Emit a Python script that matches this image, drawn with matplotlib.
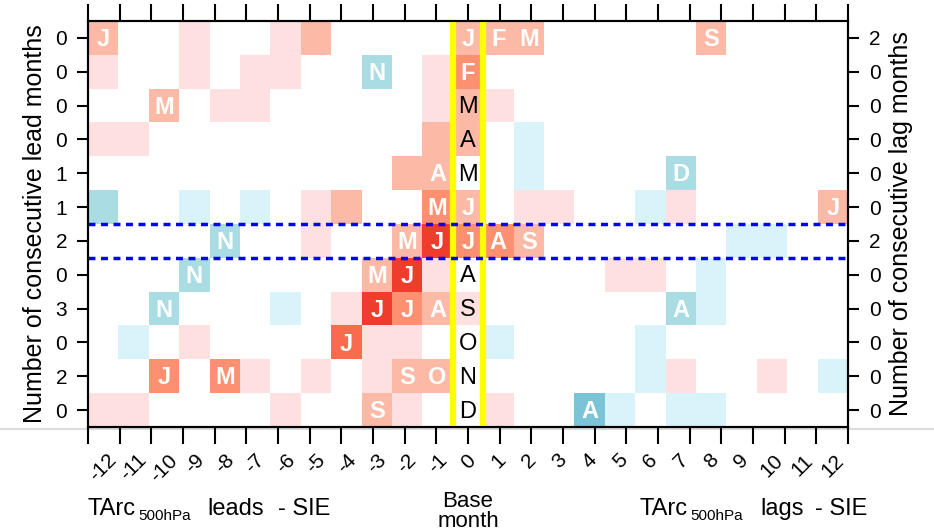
import numpy as np
import matplotlib.pyplot as plt
from matplotlib.colors import ListedColormap, BoundaryNorm
from matplotlib.lines import Line2D

plt.rcParams['font.family'] = ['Liberation Sans', 'DejaVu Sans']

lags = list(range(-12, 13))
base_months = list('JFMAMJJASOND')
lead_counts = [0, 0, 0, 0, 1, 1, 2, 0, 3, 0, 2, 0]
lag_counts = [2, 0, 0, 0, 0, 0, 2, 0, 0, 0, 0, 0]

# correlation class per cell (-3..-1 blue, 1..5 red), rows Jan..Dec, columns lag -12..12
levels = [
    [2, 0, 0, 1, 0, 0, 1, 2, 0, 0, 0, 0, 2, 2, 2, 0, 0, 0, 0, 0, 2, 0, 0, 0, 0],
    [1, 0, 0, 1, 0, 1, 1, 0, 0, -2, 0, 1, 3, 0, 0, 0, 0, 0, 0, 0, 0, 0, 0, 0, 0],
    [0, 0, 2, 0, 1, 1, 0, 0, 0, 0, 0, 1, 2, 1, 0, 0, 0, 0, 0, 0, 0, 0, 0, 0, 0],
    [1, 1, 0, 0, 0, 0, 0, 0, 0, 0, 0, 2, 2, 0, -1, 0, 0, 0, 0, 0, 0, 0, 0, 0, 0],
    [0, 0, 0, 0, 0, 0, 0, 0, 0, 0, 2, 2, 0, 0, -1, 0, 0, 0, 0, -2, 0, 0, 0, 0, 0],
    [-2, 0, 0, -1, 0, -1, 0, 1, 2, 0, 0, 3, 2, 0, 1, 1, 0, 0, -1, 1, 0, 0, 0, 0, 2],
    [0, 0, 0, 0, -2, 0, 0, 1, 0, 0, 2, 5, 3, 3, 2, 0, 0, 0, 0, 0, 0, -1, -1, 0, 0],
    [0, 0, 0, -2, 0, 0, 0, 0, 0, 2, 5, 1, 0, 0, 0, 0, 0, 1, 1, 0, -1, 0, 0, 0, 0],
    [0, 0, -2, 0, 0, 0, -1, 0, 1, 5, 3, 2, 1, 0, 0, 0, 0, 0, 0, -2, -1, 0, 0, 0, 0],
    [0, -1, 0, 1, 0, 0, 0, 0, 4, 1, 1, 0, 0, -1, 0, 0, 0, 0, -1, 0, 0, 0, 0, 0, 0],
    [0, 0, 3, 0, 3, 1, 0, 1, 0, 1, 2, 2, 0, 0, 0, 0, 0, 0, -1, 1, 0, 0, 1, 0, -1],
    [1, 1, 0, 0, 0, 0, 1, 0, 0, 2, 1, 0, 0, 1, 0, 0, -3, -1, 0, -1, -1, 0, 0, 0, 0],
]

letters = [
    "J...........JFM.....S....",
    ".........N..F............",
    "..M.........M............",
    "............A............",
    "...........AM......D.....",
    "...........MJ...........J",
    "....N.....MJJAS..........",
    "...N.....MJ.A............",
    "..N......JJAS......A.....",
    "........J...O............",
    "..J.M.....SON............",
    ".........S..D...A........",
]
base_white = [True, True, False, False, False, True, True, False, False, False, False, False]

colors = ['#7bc4d8', '#a9dce3', '#d9f3fb', '#ffffff',
          '#fee0e0', '#fcbaa6', '#fc9070', '#fa6a4c', '#ef3d2d']
cmap = ListedColormap(colors)
norm = BoundaryNorm(np.arange(-3.5, 6.5, 1), cmap.N)

fig = plt.figure(figsize=(9.34, 5.31), dpi=100)
fig.add_artist(Line2D([0, 1], [0.192, 0.192], transform=fig.transFigure,
                      color='#dcdcdc', lw=1.5, zorder=0))
ax = fig.add_axes([88 / 934, 104 / 531, 760 / 934, 406 / 531])

ncol = len(lags)
nrow = len(base_months)
ax.pcolormesh(np.arange(ncol + 1), np.arange(nrow + 1), np.array(levels),
              cmap=cmap, norm=norm)

for r in range(nrow):
    for c in range(ncol):
        ch = letters[r][c]
        if ch == '.':
            continue
        if lags[c] == 0 and not base_white[r]:
            ax.text(c + 0.5, r + 0.55, ch, ha='center', va='center',
                    fontsize=17, color='black', zorder=5)
        else:
            ax.text(c + 0.5, r + 0.55, ch, ha='center', va='center',
                    fontsize=17, fontweight='bold', color='white', zorder=5)

c0 = lags.index(0)
ax.axvline(c0, color='#ffff00', lw=4.5, zorder=4)
ax.axvline(c0 + 1, color='#ffff00', lw=4.5, zorder=4)
ax.axhline(6, color='#0000ff', lw=2.5, ls=(0, (2, 1.6)), zorder=4)
ax.axhline(7, color='#0000ff', lw=2.5, ls=(0, (2, 1.6)), zorder=4)

ax.set_xlim(0, ncol)
ax.set_ylim(nrow, 0)

ax.xaxis.remove_overlapping_locs = False
ax.set_xticks(np.linspace(0, ncol, ncol))
ax.set_xticklabels([])
ax.set_xticks(np.arange(ncol) + 0.5, minor=True)
ax.set_xticklabels([str(v) for v in lags], minor=True, rotation=45,
                   ha='center', va='top', fontsize=15)
ax.tick_params(axis='x', which='major', direction='out', length=12, width=1.5,
               top=True, bottom=True)
ax.tick_params(axis='x', which='minor', length=0, pad=17, top=False)

ax.set_yticks(np.arange(nrow) + 0.5)
ax.set_yticklabels([str(v) for v in lead_counts], fontsize=15)
ax.tick_params(axis='y', direction='out', length=8, width=1.5, pad=7)
ax.set_ylabel('Number of consecutive lead months', fontsize=18, labelpad=6)

ax2 = ax.twinx()
ax2.set_ylim(nrow, 0)
ax2.set_yticks(np.arange(nrow) + 0.5)
ax2.set_yticklabels([str(v) for v in lag_counts], fontsize=15)
ax2.tick_params(axis='y', direction='out', length=8, width=1.5, pad=7)
ax2.set_ylabel('Number of consecutive lag months', fontsize=18, labelpad=6)

for a in (ax, ax2):
    for s in a.spines.values():
        s.set_linewidth(1.5)

def px(x, y):
    return x / 934, (531 - y) / 531

fig.text(*px(88, 515), 'TArc', fontsize=17, va='baseline')
fig.text(*px(138, 520), '500hPa', fontsize=11, va='baseline')
fig.text(*px(207, 515), 'leads', fontsize=17, va='baseline')
fig.text(*px(278, 515), '- SIE', fontsize=17, va='baseline')
fig.text(*px(640, 515), 'TArc', fontsize=17, va='baseline')
fig.text(*px(690, 520), '500hPa', fontsize=11, va='baseline')
fig.text(*px(760, 515), 'lags', fontsize=17, va='baseline')
fig.text(*px(815, 515), '- SIE', fontsize=17, va='baseline')
fig.text(*px(468, 507), 'Base', fontsize=16, ha='center', va='baseline')
fig.text(*px(468, 527), 'month', fontsize=16, ha='center', va='baseline')

plt.savefig('out.png', dpi=100)
plt.close()
